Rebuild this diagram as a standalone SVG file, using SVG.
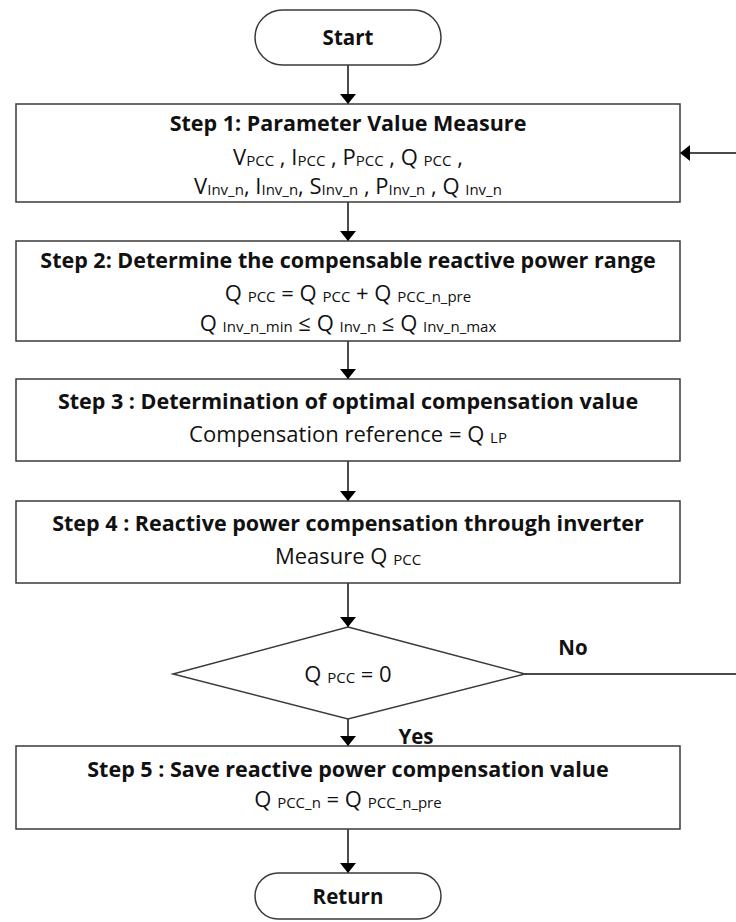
<svg xmlns="http://www.w3.org/2000/svg" width="736" height="922" viewBox="0 0 736 922">
  <defs>
    <marker id="arrow" viewBox="0 0 10 16" refX="10" refY="8" markerWidth="10" markerHeight="16" markerUnits="userSpaceOnUse" orient="auto">
      <path d="M0,0 L10,8 L0,16 Z" fill="#000"/>
    </marker>
    <style>
      .shape { fill: #fff; stroke: #3a3a3a; stroke-width: 1.5; }
      .title { font-family: "Open Sans", "Liberation Sans", sans-serif; font-weight: bold; font-size: 21.5px; fill: #111; text-anchor: middle; }
      .label { font-family: "Open Sans", "Liberation Sans", sans-serif; font-weight: bold; font-size: 20.5px; fill: #111; text-anchor: middle; }
      .body { font-family: "Open Sans", "Liberation Sans", sans-serif; font-size: 22px; fill: #111; text-anchor: middle; }
      .sub { font-size: 15px; }
      .edge { fill: none; stroke: #111; stroke-width: 1.5; }
    </style>
  </defs>
  <rect width="736" height="922" fill="#fff"/>

  <g id="connectors">
    <path class="edge" d="M348,65 V104" marker-end="url(#arrow)"/>
    <path class="edge" d="M348,202 V241" marker-end="url(#arrow)"/>
    <path class="edge" d="M348,341 V379" marker-end="url(#arrow)"/>
    <path class="edge" d="M348,461 V501" marker-end="url(#arrow)"/>
    <path class="edge" d="M348,583 V627" marker-end="url(#arrow)"/>
    <path class="edge" d="M348,719 V746" marker-end="url(#arrow)"/>
    <path class="edge" d="M348,829 V873" marker-end="url(#arrow)"/>
    <path class="edge" d="M525,674 H742 V153 H680" marker-end="url(#arrow)"/>
    <text class="label" x="573" y="655">No</text>
    <text class="label" x="416" y="744">Yes</text>
  </g>

  <g id="start">
    <rect class="shape" x="255" y="10" width="186" height="55" rx="27.5"/>
    <text class="label" x="348" y="45">Start</text>
  </g>

  <g id="step1">
    <rect class="shape" x="16" y="104" width="664" height="98"/>
    <text class="title" x="348" y="131">Step 1: Parameter Value Measure</text>
    <text class="body" x="348" y="165">V<tspan class="sub" dy="1">PCC</tspan><tspan dy="-1"> , I</tspan><tspan class="sub" dy="1">PCC</tspan><tspan dy="-1"> , P</tspan><tspan class="sub" dy="1">PCC</tspan><tspan dy="-1"> , Q </tspan><tspan class="sub" dy="1">PCC</tspan><tspan dy="-1"> ,</tspan></text>
    <text class="body" x="348" y="194">V<tspan class="sub" dy="1">Inv_n</tspan><tspan dy="-1">, I</tspan><tspan class="sub" dy="1">Inv_n</tspan><tspan dy="-1">, S</tspan><tspan class="sub" dy="1">Inv_n</tspan><tspan dy="-1"> , P</tspan><tspan class="sub" dy="1">Inv_n</tspan><tspan dy="-1"> , Q </tspan><tspan class="sub" dy="1">Inv_n</tspan></text>
  </g>

  <g id="step2">
    <rect class="shape" x="16" y="241" width="664" height="100"/>
    <text class="title" x="348" y="268">Step 2: Determine the compensable reactive power range</text>
    <text class="body" x="348" y="301">Q <tspan class="sub" dy="1">PCC</tspan><tspan dy="-1"> = Q </tspan><tspan class="sub" dy="1">PCC</tspan><tspan dy="-1"> + Q </tspan><tspan class="sub" dy="1">PCC_n_pre</tspan></text>
    <text class="body" x="348" y="331">Q <tspan class="sub" dy="1">Inv_n_min</tspan><tspan dy="-1"> ≤ Q </tspan><tspan class="sub" dy="1">Inv_n</tspan><tspan dy="-1"> ≤ Q </tspan><tspan class="sub" dy="1">Inv_n_max</tspan></text>
  </g>

  <g id="step3">
    <rect class="shape" x="16" y="379" width="664" height="82"/>
    <text class="title" x="348" y="409">Step 3 : Determination of optimal compensation value</text>
    <text class="body" x="348" y="442">Compensation reference = Q <tspan class="sub" dy="1">LP</tspan></text>
  </g>

  <g id="step4">
    <rect class="shape" x="16" y="501" width="664" height="82"/>
    <text class="title" x="348" y="531">Step 4 : Reactive power compensation through inverter</text>
    <text class="body" x="348" y="564">Measure Q <tspan class="sub" dy="1">PCC</tspan></text>
  </g>

  <g id="decision">
    <polygon class="shape" points="348,627 525,674 348,719 173,674"/>
    <text class="body" x="348" y="682">Q <tspan class="sub" dy="1">PCC</tspan><tspan dy="-1"> = 0</tspan></text>
  </g>

  <g id="step5">
    <rect class="shape" x="16" y="746" width="664" height="83"/>
    <text class="title" x="348" y="777">Step 5 : Save reactive power compensation value</text>
    <text class="body" x="348" y="807">Q <tspan class="sub" dy="1">PCC_n</tspan><tspan dy="-1"> = Q </tspan><tspan class="sub" dy="1">PCC_n_pre</tspan></text>
  </g>

  <g id="return">
    <rect class="shape" x="255" y="873" width="186" height="46" rx="23"/>
    <text class="label" x="348" y="904">Return</text>
  </g>
</svg>
